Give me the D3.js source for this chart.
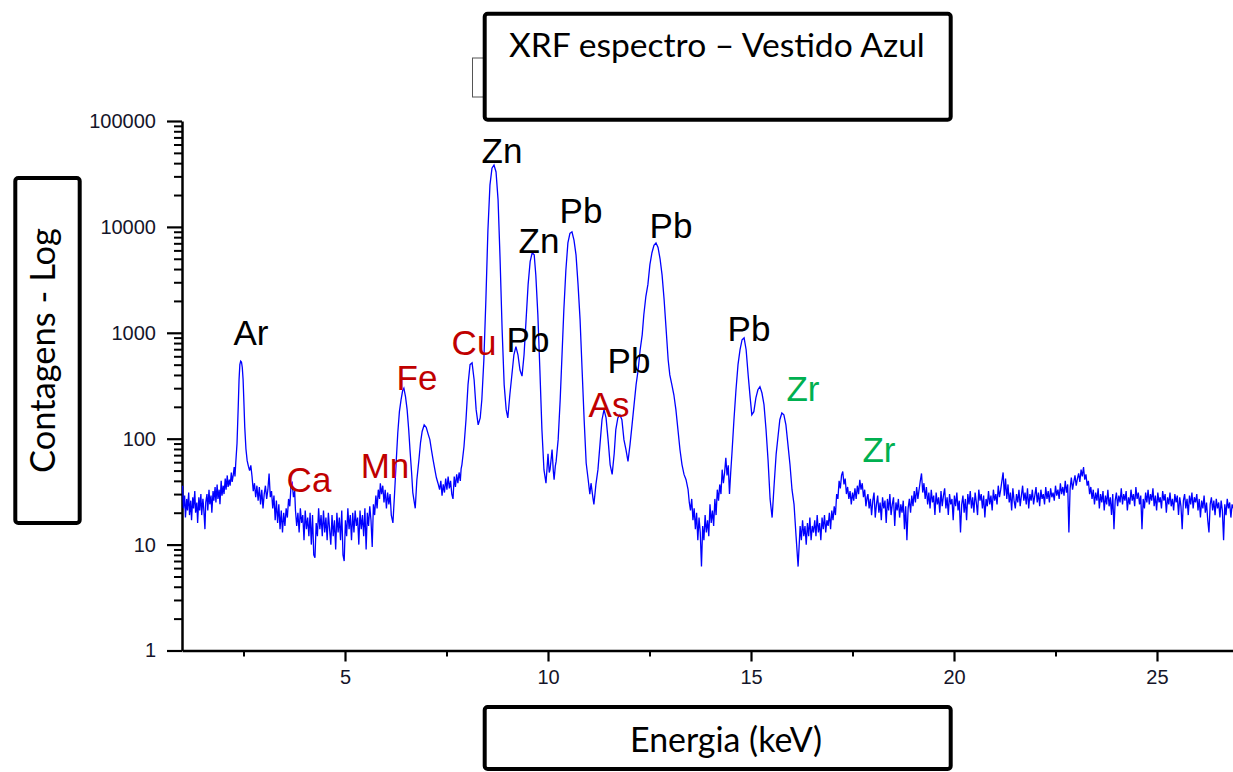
<!DOCTYPE html>
<html>
<head>
<meta charset="utf-8">
<script src="https://cdn.jsdelivr.net/npm/d3@7"></script>
<style>
  body { margin: 0; background: #fff; }
  svg { display: block; }
</style>
</head>
<body>
<div id="canvas"></div>
<script>
// spectrum: [energy keV, counts]
const spectrumLow = [
  [1.00,36],[1.02,22],[1.05,29],[1.07,18],[1.10,27],[1.12,21],[1.15,31],[1.17,19],[1.20,26],[1.22,17],
  [1.25,28],[1.27,22],[1.30,32],[1.32,20],[1.35,25],[1.37,16],[1.40,28],[1.42,21],[1.45,30],[1.47,19],
  [1.50,27],[1.52,22],[1.55,14],[1.57,25],[1.60,30],[1.62,21],[1.65,33],[1.67,24],[1.70,29],[1.72,20],
  [1.75,32],[1.77,26],[1.80,35],[1.82,25],[1.85,37],[1.87,27],[1.90,33],[1.92,24],[1.95,40],[1.97,29],
  [2.00,36],[2.02,30],[2.05,42],[2.07,33],[2.10,45],[2.12,35],[2.15,41],[2.17,36],[2.20,48],[2.22,39],
  [2.25,46],[2.27,54],[2.29,44],[2.31,60],
  [2.34,90],[2.37,200],[2.39,360],[2.41,500],[2.43,540],[2.45,530],[2.47,470],[2.49,360],[2.51,220],
  [2.53,130],[2.56,80],[2.59,62],[2.62,55],[2.65,50],[2.68,56],
  [2.71,44],[2.74,32],[2.77,38],[2.80,28],[2.83,36],[2.86,26],[2.89,35],[2.92,24],[2.95,33],[2.98,22],
  [3.01,30],[3.04,36],[3.07,27],[3.10,33],[3.13,47],[3.16,28],[3.19,32],[3.22,22],[3.25,29],[3.28,17],
  [3.31,26],[3.34,16],[3.37,24],[3.40,14],[3.43,21],[3.46,13],[3.49,20],[3.52,15],[3.55,22],[3.58,18],
  [3.61,27],[3.64,23],[3.67,36],[3.70,38],[3.73,28],[3.76,32],
  [3.78,21],[3.81,15],[3.84,20],[3.87,13],[3.90,22],[3.93,16],[3.96,19],[3.99,11],[4.02,21],[4.05,14],
  [4.08,18],[4.11,12],[4.14,20],[4.17,10],[4.20,19],[4.23,8],[4.26,7.5],[4.29,16],[4.32,12],[4.35,22],
  [4.38,14],[4.41,19],[4.44,12],[4.47,21],[4.50,13],[4.53,18],[4.56,11],[4.59,20],[4.62,14],[4.65,10],
  [4.68,19],[4.71,12],[4.74,17],[4.77,9],[4.80,20],[4.83,13],[4.86,18],[4.89,11],[4.92,21],[4.95,8],
  [4.98,7],[5.01,17],[5.04,12],[5.07,22],[5.10,14],[5.13,19],[5.16,11],[5.19,20],[5.22,13],[5.25,21],
  [5.28,15],[5.31,18],[5.34,10],[5.37,21],[5.40,14],[5.43,19],[5.46,12],[5.49,22],[5.52,9],[5.55,20],
  [5.58,15],[5.61,23],[5.64,17],[5.67,9.5],[5.70,24],[5.73,19],[5.76,29],[5.79,22],[5.82,33],[5.85,27],
  [5.87,38],[5.90,30],[5.93,36],[5.96,25],[5.99,33],[6.02,22],[6.05,31],[6.08,24],[6.11,30],[6.14,19],
  [6.18,16],[6.22,30],[6.26,60],[6.30,114],[6.34,180],[6.38,233],[6.42,285],[6.45,300],[6.49,250],
  [6.53,188],[6.57,120],[6.60,79],[6.64,48],[6.67,31],[6.70,26],[6.73,22],[6.77,41],[6.82,63],[6.86,92],
  [6.90,117],[6.95,135],[7.00,128],[7.05,110],[7.09,98],[7.13,78],[7.17,63],[7.21,52],[7.25,43],[7.29,38],
  [7.33,33],[7.36,40],[7.39,29],[7.42,37],[7.45,31],[7.48,42],[7.51,33],[7.54,44],[7.57,34],[7.60,40],
  [7.63,30],[7.66,27],[7.69,44],[7.72,35],[7.75,46],[7.78,38],[7.81,48],[7.84,40],[7.86,52]
];

const spectrumPeaks = [
  [7.88,57],[7.93,84],[7.98,151],[8.03,324],[8.08,500],[8.13,520],[8.18,360],[8.23,188],[8.28,135],
  [8.33,157],[8.37,233],[8.42,554],[8.47,2050],[8.52,9300],[8.57,24800],[8.62,35800],[8.67,38400],
  [8.72,33000],[8.77,18000],[8.82,4900],[8.87,1070],[8.92,324],[8.97,188],[9.01,157],[9.06,260],
  [9.11,400],[9.16,620],[9.21,740],[9.26,620],[9.31,445],[9.36,390],[9.41,620],[9.46,1330],[9.51,2850],
  [9.56,4700],[9.61,5700],[9.66,5440],[9.70,3500],[9.75,1480],[9.80,445],[9.85,122],[9.90,51],[9.95,38],
  [9.98,55],[10.00,72],[10.03,48],[10.05,51],[10.08,66],[10.10,79],[10.13,50],[10.15,41],[10.18,55],
  [10.20,61],[10.25,98],[10.30,233],[10.34,554],[10.39,1640],
  [10.44,3900],[10.49,7060],[10.54,8700],[10.59,8970],[10.64,7500],[10.69,5440],[10.74,2850],[10.79,1330],
  [10.84,445],[10.89,151],[10.94,59],[10.99,41],[11.03,30],[11.06,38],[11.08,33],[11.11,27],[11.13,24],
  [11.16,31],[11.18,37],[11.23,51],
  [11.28,88],[11.33,151],[11.38,188],[11.43,157],[11.48,98],[11.53,57],[11.58,46],[11.63,72],[11.67,122],
  [11.72,157],[11.77,168],[11.82,151],[11.87,98],[11.92,79],[11.97,61],[12.02,88],[12.07,135],[12.12,210],
  [12.17,324],[12.22,445],[12.27,692],[12.32,957],[12.36,1480],[12.41,2200],[12.46,2850],[12.51,4400],
  [12.56,5700],[12.61,6700],[12.66,7060],[12.71,6400],[12.76,5000],[12.81,3500],[12.86,2050],[12.91,1070],
  [12.96,554],[13.00,400],[13.05,324],[13.10,260],[13.15,188],[13.20,122],[13.25,79],[13.30,57],[13.35,46],
  [13.40,41],[13.45,33],[13.48,25],[13.51,21],[13.54,27],[13.57,17],[13.60,22],[13.63,14],[13.66,20],
  [13.69,11],[13.72,18],[13.75,13],[13.78,6.2],[13.81,15],[13.84,11],[13.87,19],[13.90,13],[13.93,17],
  [13.96,12],[13.99,24],[14.02,16],[14.05,21],[14.08,15],[14.11,27],[14.14,19],[14.17,33],[14.20,26],
  [14.23,37],[14.26,30],[14.29,51],[14.32,38],[14.35,48],[14.38,66],[14.41,45],[14.44,56],[14.47,30],
  [14.50,48],[14.53,72],[14.58,151],[14.63,290],[14.68,500],
  [14.73,692],[14.78,860],[14.83,897],[14.88,692],[14.93,400],[14.98,243],[15.02,168],[15.07,180],
  [15.12,243],[15.17,290],[15.22,310],[15.27,270],[15.32,210],[15.37,122],[15.42,63],[15.47,27],[15.52,18],
  [15.57,37],[15.62,72],[15.67,109],[15.71,151],[15.76,175],[15.81,168],[15.86,135],[15.91,88],[15.96,57],
  [16.01,33],[16.06,24],[16.11,12],[16.16,6.2],[16.21,15]
];

const spectrumHigh = [
  [16.24,11],[16.27,17],[16.30,12],[16.33,15],[16.36,10],[16.39,16],[16.42,12],[16.45,18],[16.48,11],[16.51,15],
  [16.54,13],[16.57,17],[16.60,12],[16.63,19],[16.66,13],[16.69,16],[16.72,11],[16.75,18],[16.78,14],[16.81,19],
  [16.84,13],[16.87,17],[16.90,15],[16.93,20],[16.96,14],[16.99,21],[17.02,17],[17.05,23],[17.08,19],[17.11,30],
  [17.14,27],[17.17,40],[17.20,34],[17.23,45],[17.26,49],[17.29,37],[17.32,42],[17.35,30],[17.38,35],[17.41,27],
  [17.44,32],[17.47,24],[17.50,31],[17.53,26],[17.56,34],[17.59,27],[17.62,36],[17.65,30],[17.68,41],[17.71,33],
  [17.74,38],[17.77,28],[17.80,33],[17.83,23],[17.86,28],
  [17.88,30],[17.91,22],[17.94,27],[17.97,19],[18.00,26],[18.03,31],[18.06,18],[18.09,24],[18.12,29],[18.15,20],
  [18.18,25],[18.21,17],[18.24,28],[18.27,22],[18.30,26],[18.33,16],[18.36,27],[18.39,21],[18.42,30],[18.45,19],
  [18.48,24],[18.51,28],[18.54,15],[18.57,25],[18.60,21],[18.63,27],[18.66,18],[18.69,24],[18.72,20],[18.75,26],
  [18.78,14],[18.81,23],[18.84,11],[18.87,22],[18.90,27],[18.93,20],[18.96,29],[18.99,23],[19.02,32],[19.05,25],
  [19.08,35],[19.11,27],[19.14,33],[19.17,40],[19.20,47],[19.23,31],[19.26,38],[19.29,27],[19.32,35],[19.35,24],
  [19.38,31],[19.41,22],[19.44,33],[19.47,25],[19.50,29],[19.53,19],[19.56,31],[19.59,24],[19.62,28],[19.65,20],
  [19.68,32],[19.71,23],[19.74,29],[19.77,34],[19.80,22],[19.83,28],[19.86,19],[19.89,30],[19.92,24],[19.95,27],
  [19.98,17],[20.01,29],[20.04,23],[20.07,31],[20.10,21],[20.13,26],[20.16,13],[20.19,24],[20.22,29],[20.25,20],
  [20.28,27],[20.31,17],[20.34,30],[20.37,24],[20.40,32],[20.43,22],[20.46,28],[20.49,20],[20.52,31],[20.55,25],
  [20.58,19],[20.61,33],[20.64,26],[20.67,30],[20.70,22],[20.73,29],[20.76,18],[20.79,27],[20.82,23],[20.85,32],
  [20.88,24],[20.91,29],[20.94,21],[20.97,33],[21.00,26],[21.03,30],[21.06,24],[21.09,36],[21.12,28],[21.15,33],
  [21.18,40],[21.21,48],[21.24,29],[21.27,42],[21.30,27],[21.33,37],[21.36,25],[21.39,31],[21.42,21],[21.45,34],
  [21.48,26],[21.51,22],[21.54,30],[21.57,25],[21.60,33],[21.63,23],[21.66,29],[21.69,36],[21.72,26],[21.75,31],
  [21.78,24],[21.81,34],[21.84,22],[21.87,30],[21.90,26],[21.93,33],[21.96,24],[21.99,29],[22.02,35],[22.05,25],
  [22.08,31],[22.11,23],[22.14,33],[22.17,27],[22.20,30],[22.23,24],[22.26,35],[22.29,27],[22.32,32],[22.35,25],
  [22.38,34],[22.41,28],[22.44,31],[22.47,26],[22.50,36],[22.53,29],[22.56,33],[22.59,27],[22.62,38],[22.65,30],
  [22.68,35],[22.71,29],[22.74,40],[22.77,31],[22.80,37],[22.83,13],[22.86,34],[22.89,43],[22.92,33],[22.95,39],
  [22.98,45],[23.01,36],[23.04,42],[23.07,47],[23.10,39],[23.13,51],[23.16,44],[23.19,54],[23.22,41],[23.25,46],
  [23.28,36],[23.31,40],[23.34,30],[23.37,35],[23.40,27],[23.43,33],[23.46,24],[23.49,31],[23.52,26],[23.55,34],
  [23.58,22],[23.61,30],[23.64,25],[23.67,32],[23.70,21],[23.73,29],[23.76,24],[23.79,33],[23.82,23],[23.85,28],
  [23.88,19],[23.91,30],[23.94,14],[23.97,26],[24.00,31],[24.03,23],[24.06,29],[24.09,25],[24.12,34],[24.15,24],
  [24.18,30],[24.21,26],[24.24,32],[24.27,21],[24.30,28],[24.33,24],[24.36,33],[24.39,26],[24.42,30],[24.45,23],
  [24.48,35],[24.51,27],[24.54,31],[24.57,24],[24.60,29],[24.63,14],[24.66,27],[24.69,22],[24.72,31],[24.75,25],
  [24.78,33],[24.81,24],[24.84,30],[24.87,26],[24.90,34],[24.93,23],[24.96,29],[24.99,21],[25.02,31],[25.05,25],
  [25.08,28],[25.11,22],[25.14,32],[25.17,26],[25.20,30],[25.23,20],[25.26,28],[25.29,24],[25.32,31],[25.35,23],
  [25.38,27],[25.41,21],[25.44,30],[25.47,25],[25.50,29],[25.53,19],[25.56,28],[25.59,23],[25.62,14],[25.65,26],
  [25.68,30],[25.71,22],[25.74,27],[25.77,19],[25.80,29],[25.83,24],[25.86,31],[25.89,22],[25.92,28],[25.95,25],
  [25.98,30],[26.01,21],[26.04,27],[26.07,18],[26.10,26],[26.13,22],[26.16,29],[26.19,20],[26.22,25],[26.25,17],
  [26.28,13],[26.31,24],[26.34,28],[26.37,21],[26.40,26],[26.43,19],[26.46,27],[26.49,22],[26.52,25],[26.55,18],
  [26.58,26],[26.61,21],[26.64,11],[26.67,24],[26.70,19],[26.73,27],[26.76,22],[26.79,25],[26.82,18],[26.85,24],
  [26.87,22]
];

// axis ticks
const yTicks = [1, 10, 100, 1000, 10000, 100000];
const xTicks = [5, 10, 15, 20, 25];
const xMinorTicks = [2.5, 7.5, 12.5, 17.5, 22.5];

// element labels: [symbol, keV, counts (baseline), group]
const peakLabels = [
  ["Ar", 2.685, 771, "main"],
  ["Ca", 4.113, 31.6, "minor"],
  ["Mn", 5.985, 42.9, "minor"],
  ["Fe", 6.773, 290, "minor"],
  ["Cu", 8.177, 620, "minor"],
  ["Zn", 8.867, 40150, "main"],
  ["Pb", 9.507, 662, "main"],
  ["Zn", 9.778, 5690, "main"],
  ["Pb", 10.813, 10900, "main"],
  ["Pb", 13.03, 7870, "main"],
  ["Pb", 11.995, 419, "main"],
  ["As", 11.502, 161, "minor"],
  ["Pb", 14.951, 841, "main"],
  ["Zr", 16.281, 228, "trace"],
  ["Zr", 18.153, 60.7, "trace"]
];

const titleText = "XRF espectro \u2013 Vestido Azul";
const xTitle = "Energia (keV)";
const yTitle = "Contagens - Log";

const groupColor = { main: "#000000", minor: "#c00000", trace: "#00b050" };

let width = 1233;
let height = 772;

let svg = d3.select("#canvas").append("svg")
    .attr("width", width)
    .attr("height", height);

let x = d3.scaleLinear().domain([0.985, 26.872]).range([182, 1233]);
let y = d3.scaleLog().domain([1, 100000]).range([650.5, 121]);

// minor y ticks 2..9 per decade
let yMinor = [];
yTicks.slice(0, -1).forEach(t => {
    for (let k = 2; k <= 9; k++) yMinor.push(t * k);
});

// y axis
svg.append("g")
    .attr("transform", "translate(182,0)")
    .call(d3.axisLeft(y).tickValues(yMinor).tickSize(8).tickSizeOuter(0).tickFormat(""))
    .call(g => g.select(".domain").remove())
    .call(g => g.selectAll("line").attr("stroke", "#000").attr("stroke-width", 2));

svg.append("g")
    .attr("class", "yaxis")
    .attr("transform", "translate(182,0)")
    .call(d3.axisLeft(y).tickValues(yTicks).tickSize(15).tickSizeOuter(0)
        .tickPadding(11).tickFormat(d3.format("d")))
    .call(g => g.select(".domain").attr("stroke-width", 2.5))
    .call(g => g.selectAll("line").attr("stroke-width", 2.2))
    .call(g => g.selectAll("text")
        .attr("font-family", "Liberation Sans, Arial, sans-serif")
        .attr("font-size", 20)
        .attr("fill", "#15152a"));

// x axis
svg.append("g")
    .attr("transform", "translate(0,650.5)")
    .call(d3.axisBottom(x).tickValues(xMinorTicks).tickSize(6).tickSizeOuter(0).tickFormat(""))
    .call(g => g.select(".domain").remove())
    .call(g => g.selectAll("line").attr("stroke", "#000").attr("stroke-width", 2));

svg.append("g")
    .attr("transform", "translate(0,650.5)")
    .call(d3.axisBottom(x).tickValues(xTicks).tickSize(11).tickSizeOuter(0).tickPadding(8))
    .call(g => g.select(".domain").attr("stroke-width", 2.5))
    .call(g => g.selectAll("line").attr("stroke-width", 2.2))
    .call(g => g.selectAll("text")
        .attr("font-family", "Liberation Sans, Arial, sans-serif")
        .attr("font-size", 20)
        .attr("fill", "#15152a"));

// spectrum
let spectrum = spectrumLow.concat(spectrumPeaks, spectrumHigh);

let line = d3.line()
    .x(d => x(d[0]))
    .y(d => y(d[1]));

svg.append("path")
    .datum(spectrum)
    .attr("fill", "none")
    .attr("stroke", "#0000ff")
    .attr("stroke-width", 1.3)
    .attr("d", line);

// element labels
svg.append("g")
    .selectAll("text")
    .data(peakLabels)
    .enter().append("text")
    .attr("x", d => x(d[1]))
    .attr("y", d => y(d[2]))
    .attr("text-anchor", "middle")
    .attr("font-family", "Liberation Sans, Arial, sans-serif")
    .attr("font-size", 35)
    .attr("fill", d => groupColor[d[3]])
    .text(d => d[0]);

// fit a text to a target width
function fitText(sel, target) {
    let w = sel.node().getComputedTextLength();
    let fs = parseFloat(sel.attr("font-size"));
    sel.attr("font-size", fs * target / w);
}

// title box
svg.append("rect")
    .attr("x", 472.5).attr("y", 58).attr("width", 11).attr("height", 39)
    .attr("fill", "#fff").attr("stroke", "#555").attr("stroke-width", 1);

svg.append("rect")
    .attr("x", 484.7).attr("y", 13.7).attr("width", 466).attr("height", 106)
    .attr("rx", 3)
    .attr("fill", "#fff").attr("stroke", "#000").attr("stroke-width", 4);

let title = svg.append("text")
    .attr("x", 509).attr("y", 57)
    .attr("font-family", "Lato, sans-serif")
    .attr("font-size", 32)
    .attr("fill", "#000")
    .text(titleText);
fitText(title, 416);

// x title box
svg.append("rect")
    .attr("x", 484.7).attr("y", 707).attr("width", 466).attr("height", 62)
    .attr("rx", 3)
    .attr("fill", "#fff").attr("stroke", "#000").attr("stroke-width", 4);

let xt = svg.append("text")
    .attr("x", 726).attr("y", 752)
    .attr("text-anchor", "middle")
    .attr("font-family", "Lato, sans-serif")
    .attr("font-size", 32)
    .attr("fill", "#000")
    .text(xTitle);
fitText(xt, 192);

// y title box
svg.append("rect")
    .attr("x", 15.3).attr("y", 178).attr("width", 64.4).attr("height", 345)
    .attr("rx", 3)
    .attr("fill", "#fff").attr("stroke", "#000").attr("stroke-width", 4);

let yt = svg.append("text")
    .attr("transform", "translate(55,350.5) rotate(-90)")
    .attr("text-anchor", "middle")
    .attr("font-family", "Lato, sans-serif")
    .attr("font-size", 32)
    .attr("fill", "#000")
    .text(yTitle);
fitText(yt, 245);
</script>
</body>
</html>
